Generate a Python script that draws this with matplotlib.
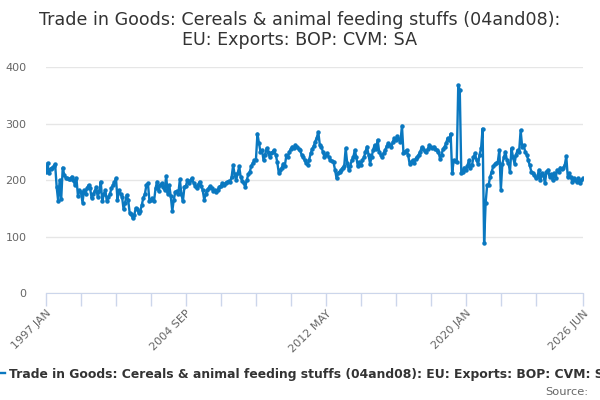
import matplotlib
matplotlib.use("Agg")
import matplotlib.pyplot as plt
import numpy as np

title_line1 = "Trade in Goods: Cereals & animal feeding stuffs (04and08):"
title_line2 = "EU: Exports: BOP: CVM: SA"
series_name = "Trade in Goods: Cereals & animal feeding stuffs (04and08): EU: Exports: BOP: CVM: SA"

start_year = 1997
# Monthly values, 1997 JAN .. 2026 JUN
v1997 = [215, 230, 212, 220, 222, 224, 228, 188, 163, 200, 166, 222]
v1998 = [209, 204, 203, 201, 202, 206, 200, 191, 203, 172, 182, 178]
v1999 = [160, 182, 175, 186, 191, 185, 168, 175, 180, 187, 170, 180]
v2000 = [197, 162, 175, 182, 162, 170, 175, 185, 191, 196, 203, 165]
v2001 = [182, 176, 170, 148, 160, 173, 165, 142, 140, 132, 138, 150]
v2002 = [148, 141, 145, 156, 169, 175, 191, 194, 163, 165, 168, 162]
v2003 = [185, 197, 180, 191, 194, 188, 182, 207, 176, 191, 172, 145]
v2004 = [165, 179, 180, 176, 201, 175, 162, 188, 190, 200, 195, 200]
v2005 = [203, 195, 190, 185, 192, 197, 190, 182, 165, 175, 183, 186]
v2006 = [189, 185, 180, 182, 179, 183, 188, 190, 194, 192, 195, 196]
v2007 = [198, 197, 205, 226, 210, 200, 212, 224, 205, 198, 195, 188]
v2008 = [200, 210, 215, 225, 230, 235, 236, 282, 265, 250, 253, 235]
v2009 = [245, 256, 250, 241, 248, 250, 253, 245, 232, 213, 218, 222]
v2010 = [229, 225, 244, 240, 250, 255, 259, 257, 262, 258, 255, 253]
v2011 = [245, 241, 235, 230, 226, 236, 247, 255, 260, 268, 275, 285]
v2012 = [262, 259, 250, 241, 245, 247, 240, 235, 233, 231, 218, 203]
v2013 = [212, 215, 218, 222, 224, 256, 230, 218, 225, 235, 240, 253]
v2014 = [240, 224, 232, 226, 235, 240, 250, 259, 245, 229, 240, 253]
v2015 = [262, 255, 271, 250, 245, 241, 248, 253, 260, 265, 262, 258]
v2016 = [268, 274, 270, 277, 272, 268, 296, 247, 250, 253, 245, 229]
v2017 = [232, 235, 230, 238, 241, 245, 250, 258, 255, 252, 250, 255]
v2018 = [262, 258, 256, 259, 255, 253, 250, 238, 245, 255, 259, 265]
v2019 = [274, 270, 282, 212, 235, 233, 232, 368, 359, 212, 215, 222]
v2020 = [218, 225, 235, 222, 226, 240, 247, 235, 229, 245, 256, 291]
v2021 = [88, 160, 191, 192, 206, 215, 224, 228, 230, 232, 253, 183]
v2022 = [229, 240, 250, 235, 230, 215, 256, 240, 229, 245, 253, 250]
v2023 = [288, 259, 262, 250, 245, 235, 226, 215, 212, 208, 203, 205]
v2024 = [218, 200, 212, 208, 194, 215, 218, 206, 210, 200, 212, 203]
v2025 = [218, 215, 222, 220, 222, 226, 242, 205, 212, 205, 197, 203]
v2026 = [200, 197, 203, 195, 200, 203]

values = (v1997 + v1998 + v1999 + v2000 + v2001 + v2002 + v2003 + v2004 + v2005 +
          v2006 + v2007 + v2008 + v2009 + v2010 + v2011 + v2012 + v2013 + v2014 +
          v2015 + v2016 + v2017 + v2018 + v2019 + v2020 + v2021 + v2022 + v2023 +
          v2024 + v2025 + v2026)

months = ["JAN", "FEB", "MAR", "APR", "MAY", "JUN", "JUL", "AUG", "SEP", "OCT", "NOV", "DEC"]
n = len(values)
labels = [f"{start_year + i // 12} {months[i % 12]}" for i in range(n)]
x = np.arange(n)

fig = plt.figure(figsize=(6, 4), dpi=100)
ax = fig.add_axes([46/600, 1 - 293/400, (583-46)/600, (293-67)/400])

col = "#0a78c0"
ax.plot(x, values, color=col, lw=1.7, marker="o", ms=2.2, mec=col, mfc=col, zorder=3)

ax.set_xlim(0, n - 1)
ax.set_ylim(0, 400)
ax.set_yticks([0, 100, 200, 300, 400])
ax.yaxis.grid(True, color="#e6e6e6", lw=1)
ax.set_axisbelow(True)

tick_pos = [i for i in range(0, n, 23) if i < n - 15] + [n - 1]
ax.set_xticks(tick_pos)
lab_idx = {0, 92, 184, 276, n - 1}
ax.set_xticklabels([labels[i] if i in lab_idx else "" for i in tick_pos],
                   rotation=45, ha="right", rotation_mode="anchor",
                   fontsize=8, color="#666666")
ax.tick_params(axis="x", length=9, color="#ccd6eb", width=1, pad=2)
ax.tick_params(axis="y", length=0, labelsize=8, labelcolor="#666666", pad=14)

for s in ["top", "right", "left"]:
    ax.spines[s].set_visible(False)
ax.spines["bottom"].set_color("#ccd6eb")

fig.text(0.5, 1 - 25/400, title_line1, ha="center", va="baseline", fontsize=12.6,
         color="#333333")
fig.text(0.5, 1 - 45/400, title_line2, ha="center", va="baseline", fontsize=12.6,
         color="#333333")

fig.add_artist(plt.Line2D([0, 5/600], [1 - 373/400, 1 - 373/400], color=col, lw=1.7))
fig.text(9/600, 1 - 378/400, series_name, ha="left", va="baseline", fontsize=8.9,
         fontweight="bold", color="#333333")
fig.text(588/600, 1 - 395/400, "Source:", ha="right", va="baseline", fontsize=8.2,
         color="#666666")

fig.savefig("out.png", dpi=100)
